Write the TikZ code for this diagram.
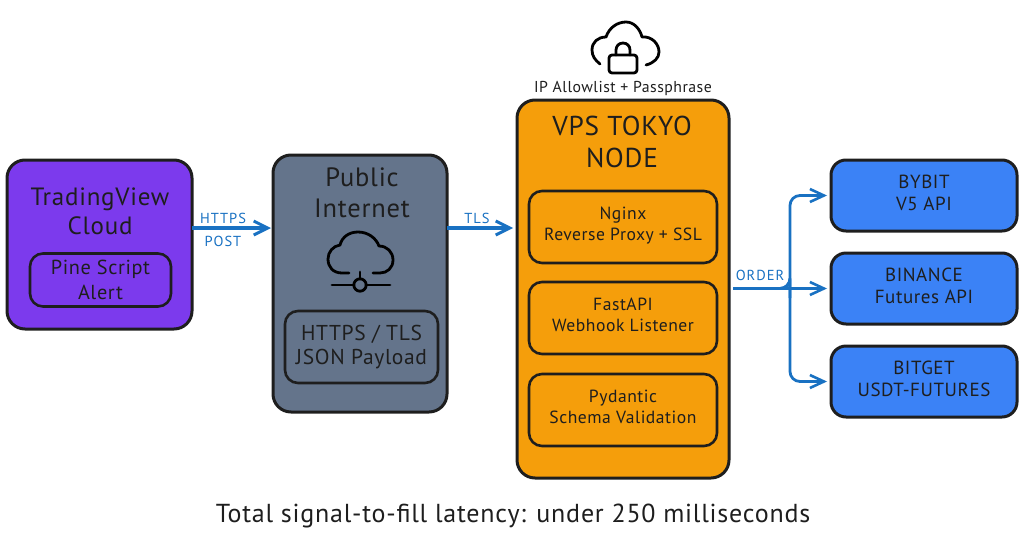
\documentclass[tikz,border=0pt]{standalone}
\usepackage{fontspec}
\setmainfont[LetterSpace=3]{PT Sans}
\newfontfamily\lblfont[LetterSpace=7]{PT Sans}
\usetikzlibrary{arrows.meta}
\definecolor{ink}{HTML}{1E1E1E}
\definecolor{link}{HTML}{1971C2}
\definecolor{purplebox}{HTML}{7C3AED}
\definecolor{slatebox}{HTML}{64748B}
\definecolor{orangebox}{HTML}{F59E0B}
\definecolor{bluebox}{HTML}{3B82F6}
\newcommand{\fs}[1]{\fontsize{#1}{#1}\selectfont}
\tikzset{
  x=1pt,y=-1pt,
  box/.style={draw=ink,line width=3pt,rounded corners=#1,inner sep=0pt,outer sep=0pt,align=center,text=ink},
  big/.style={box=18pt},
  inner/.style={box=13pt,line width=2.6pt},
  exch/.style={box=15pt,fill=bluebox,minimum width=186pt,minimum height=71pt,font=\fs{19},text depth=5pt},
  svc/.style={inner,minimum width=188pt,minimum height=72pt,font=\fs{17.6},text depth=6pt},
  title/.style={text=ink,align=center,inner sep=0pt},
  linklabel/.style={text=link,inner sep=0pt,font=\lblfont\fs{14.5},align=center},
  flow/.style={draw=link,line width=3.4pt,-{Straight Barb[length=14pt,width=14pt,line width=3pt]}},
  branch/.style={draw=link,line width=2.8pt,rounded corners=10pt,-{Straight Barb[length=14pt,width=13pt,line width=2.6pt]}},
  icon/.style={draw=black,line width=2.8pt,line cap=round,line join=round},
}
\begin{document}
\begin{tikzpicture}
\useasboundingbox (0,0) rectangle (1024,538);
% boxes
\node[big,fill=purplebox,minimum width=185pt,minimum height=169pt] (tv) at (99.5,244.5) {};
\node[title,font=\fs{25}] (tvt) at (100,211) {TradingView\\[4pt]Cloud};
\node[inner,minimum width=141pt,minimum height=53pt,font=\fs{20.3}] (pine) at (100.5,280) {Pine Script\\[4pt]Alert};
\node[big,fill=slatebox,minimum width=174pt,minimum height=257pt] (net) at (360,283.5) {};
\node[title,font=\fs{26.5}] (nett) at (362,193) {Public\\[4pt]Internet};
\node[inner,minimum width=153pt,minimum height=72pt,font=\fs{21.5}] (json) at (361.5,347) {HTTPS / TLS\\[3pt]JSON Payload};
\node[big,fill=orangebox,minimum width=212pt,minimum height=378pt] (vps) at (623,289) {};
\node[title,font=\fs{27.3}] (vpst) at (622,142) {VPS TOKYO\\[4pt]NODE};
\node[svc] (nginx) at (623,227) {Nginx\\[3pt]Reverse Proxy + SSL};
\node[svc] (fast) at (623,318) {FastAPI\\[3pt]Webhook Listener};
\node[svc] (pyd) at (623,410) {Pydantic\\[3pt]Schema Validation};
\node[exch] (bybit) at (924,195.5) {BYBIT\\[3pt]V5 API};
\node[exch] (binance) at (924,288.5) {BINANCE\\[3pt]Futures API};
\node[exch] (bitget) at (924,381.5) {BITGET\\[3pt]USDT-FUTURES};
\node[title,font=\fs{15.8}] (allow) at (623,88) {IP Allowlist + Passphrase};
\node[title,font=\fs{26}] (total) at (513,516) {Total signal-to-fill latency: under 250 milliseconds};
% connector labels
\node[linklabel] (l1) at (223,218) {HTTPS};
\node[linklabel] (l2) at (223,241) {POST};
\node[linklabel] (l3) at (477,218) {TLS};
\node[linklabel] (l4) at (760,275) {ORDER};
% connectors
\coordinate (rowa) at (0,228);
\coordinate (hub) at (790,288);
\draw[flow] (tv.east |- rowa) -- ([xshift=-2pt]net.west |- rowa);
\draw[flow] (net.east |- rowa) -- ([xshift=-4pt]vps.west |- rowa);
\draw[branch] ([xshift=4pt]vps.east |- binance.west) -- ([xshift=-4pt]binance.west);
\draw[branch] ([xshift=4pt]vps.east |- binance.west) -| (hub) |- ([xshift=-4pt]bybit.west);
\draw[branch] ([xshift=4pt]vps.east |- binance.west) -| (hub) |- ([xshift=-4pt]bitget.west);
% network cloud icon
\draw[icon] (349,273) -- (342,273) .. controls (333,273) and (328,267) .. (328,259)
  .. controls (328,252) and (333,246) .. (340,245)
  .. controls (342,237) and (349,232) .. (358,232)
  .. controls (368,232) and (376,238) .. (379,246)
  .. controls (387,246) and (393,252) .. (393,260)
  .. controls (393,268) and (387,273) .. (380,273) -- (373,273);
\draw[icon] (360,272) -- (360,279);
\draw[icon] (332,285) -- (354,285);
\draw[icon] (366,285) -- (390,285);
\draw[icon] (360,285) circle[radius=6.2];
% lock cloud icon
\draw[icon] (600,64) .. controls (595,60) and (592,56) .. (592,50)
  .. controls (592,42) and (598,37) .. (606,37)
  .. controls (609,28) and (617,22) .. (626,22)
  .. controls (634,22) and (640,29) .. (642,37)
  .. controls (652,36) and (659,44) .. (659,52)
  .. controls (659,58) and (654,63) .. (646,65);
\draw[icon,rounded corners=3pt] (609,55) rectangle (637,73);
\draw[icon] (616,55) -- (616,50) .. controls (616,46) and (619,43) .. (623,43)
  .. controls (627,43) and (630,46) .. (630,50) -- (630,55);
\end{tikzpicture}
\end{document}
